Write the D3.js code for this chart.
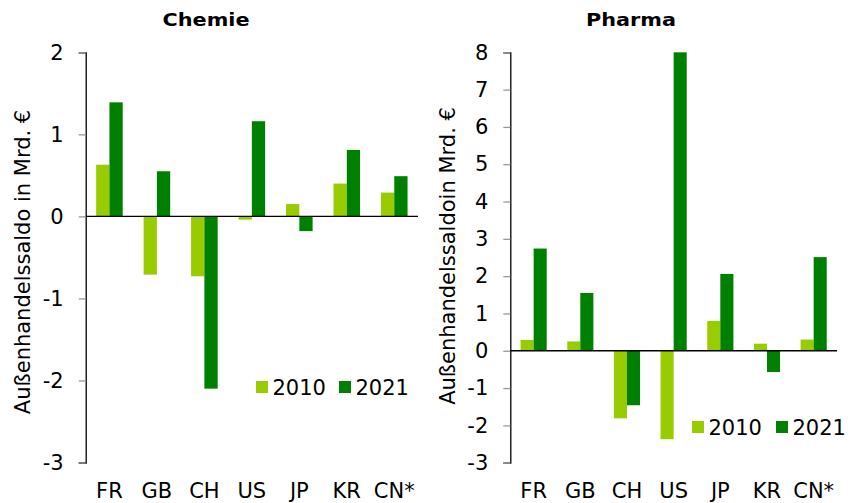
<!DOCTYPE html>
<html>
<head>
<meta charset="utf-8">
<script src="https://cdn.jsdelivr.net/npm/d3@7"></script>
<style>
  body { margin: 0; background: #fff; }
  text { font-family: "DejaVu Sans", Verdana, sans-serif; }
</style>
</head>
<body>
<div id="chart"></div>
<script>
const width = 853;
const height = 503;

// Daten
const laender = ["FR", "GB", "CH", "US", "JP", "KR", "CN*"];
const jahre = ["2010", "2021"];
const chemie2010 = [0.63, -0.71, -0.73, -0.04, 0.15, 0.40, 0.29];
const chemie2021 = [1.39, 0.55, -2.10, 1.16, -0.18, 0.81, 0.49];
const pharma2010 = [0.29, 0.25, -1.81, -2.37, 0.80, 0.19, 0.30];
const pharma2021 = [2.74, 1.55, -1.46, 8.00, 2.06, -0.57, 2.51];
const chemieTicks = [2, 1, 0, -1, -2, -3];
const pharmaTicks = [8, 7, 6, 5, 4, 3, 2, 1, 0, -1, -2, -3];

const farben = { "2010": "#99cc00", "2021": "#008000" };

const svg = d3.select("#chart")
  .append("svg")
  .attr("width", width)
  .attr("height", height);

function zeichneChart(cfg) {
  const g = svg.append("g");

  const y = d3.scaleLinear()
    .domain([cfg.ticks[cfg.ticks.length - 1], cfg.ticks[0]])
    .range([cfg.bottom, cfg.top]);

  const x = d3.scaleBand()
    .domain(laender)
    .range([cfg.left, cfg.right]);

  const xInner = d3.scaleBand()
    .domain(jahre)
    .range([0, x.bandwidth() * 0.56])
    .padding(0);

  const offset = x.bandwidth() * 0.22;

  // Titel (breit gezogen wie im Original)
  g.append("text")
    .attr("x", cfg.titleX)
    .attr("y", 26)
    .attr("text-anchor", "middle")
    .attr("textLength", cfg.titleLen)
    .attr("lengthAdjust", "spacingAndGlyphs")
    .style("font-weight", "bold")
    .style("font-size", "18px")
    .text(cfg.title);

  // Y-Achse
  const yAxis = g.append("g")
    .attr("transform", `translate(${cfg.left},0)`)
    .call(d3.axisLeft(y).tickValues(cfg.ticks).tickSize(7).tickPadding(15)
      .tickFormat(d => String(d)));
  yAxis.select(".domain").attr("stroke", "#000").attr("stroke-width", 1.3);
  yAxis.selectAll(".tick line").attr("stroke", "#999").attr("stroke-width", 1.3);
  yAxis.selectAll(".tick text")
    .style("font-size", "21px")
    .style("font-family", "'DejaVu Sans', Verdana, sans-serif")
    .attr("fill", "#000");

  // Achsentitel
  g.append("text")
    .attr("transform", `translate(${cfg.labelX}, ${cfg.labelY}) rotate(-90)`)
    .attr("text-anchor", "middle")
    .style("font-size", "21px")
    .text(cfg.yLabel);

  // Balken
  const reihen = [cfg.s2010, cfg.s2021];
  jahre.forEach((jahr, j) => {
    g.selectAll(".bar-" + jahr)
      .data(laender)
      .enter().append("rect")
      .attr("class", "bar-" + jahr)
      .attr("x", d => x(d) + offset + xInner(jahr))
      .attr("width", xInner.bandwidth())
      .attr("y", (d, i) => y(Math.max(0, reihen[j][i])))
      .attr("height", (d, i) => Math.abs(y(reihen[j][i]) - y(0)))
      .attr("fill", farben[jahr]);
  });

  // Nulllinie
  g.append("line")
    .attr("x1", cfg.left)
    .attr("x2", cfg.right)
    .attr("y1", y(0))
    .attr("y2", y(0))
    .attr("stroke", "#000")
    .attr("stroke-width", 1.3);

  // X-Beschriftung
  g.selectAll(".xlabel")
    .data(laender)
    .enter().append("text")
    .attr("class", "xlabel")
    .attr("x", d => x(d) + x.bandwidth() / 2)
    .attr("y", 498)
    .attr("text-anchor", "middle")
    .style("font-size", "21px")
    .text(d => d);

  // Legende
  const leg = g.append("g").attr("transform", `translate(${cfg.legX}, ${cfg.legY})`);
  jahre.forEach((jahr, j) => {
    const lx = j * cfg.legStep;
    leg.append("rect")
      .attr("x", lx)
      .attr("y", 0)
      .attr("width", 12)
      .attr("height", 12)
      .attr("fill", farben[jahr]);
    leg.append("text")
      .attr("x", lx + 16.5)
      .attr("y", 14)
      .style("font-size", "21px")
      .text(jahr);
  });
}

zeichneChart({
  title: "Chemie", titleX: 206, titleLen: 87,
  left: 85.7, right: 418, top: 52.3, bottom: 462.5,
  ticks: chemieTicks,
  s2010: chemie2010, s2021: chemie2021,
  yLabel: "Außenhandelssaldo in Mrd. €", labelX: 30, labelY: 262,
  legX: 256, legY: 381, legStep: 83
});

zeichneChart({
  title: "Pharma", titleX: 631, titleLen: 90,
  left: 510.3, right: 837, top: 52.3, bottom: 462.7,
  ticks: pharmaTicks,
  s2010: pharma2010, s2021: pharma2021,
  yLabel: "Außenhandelssaldoin Mrd. €", labelX: 455, labelY: 256,
  legX: 692, legY: 421, legStep: 84
});
</script>
</body>
</html>
